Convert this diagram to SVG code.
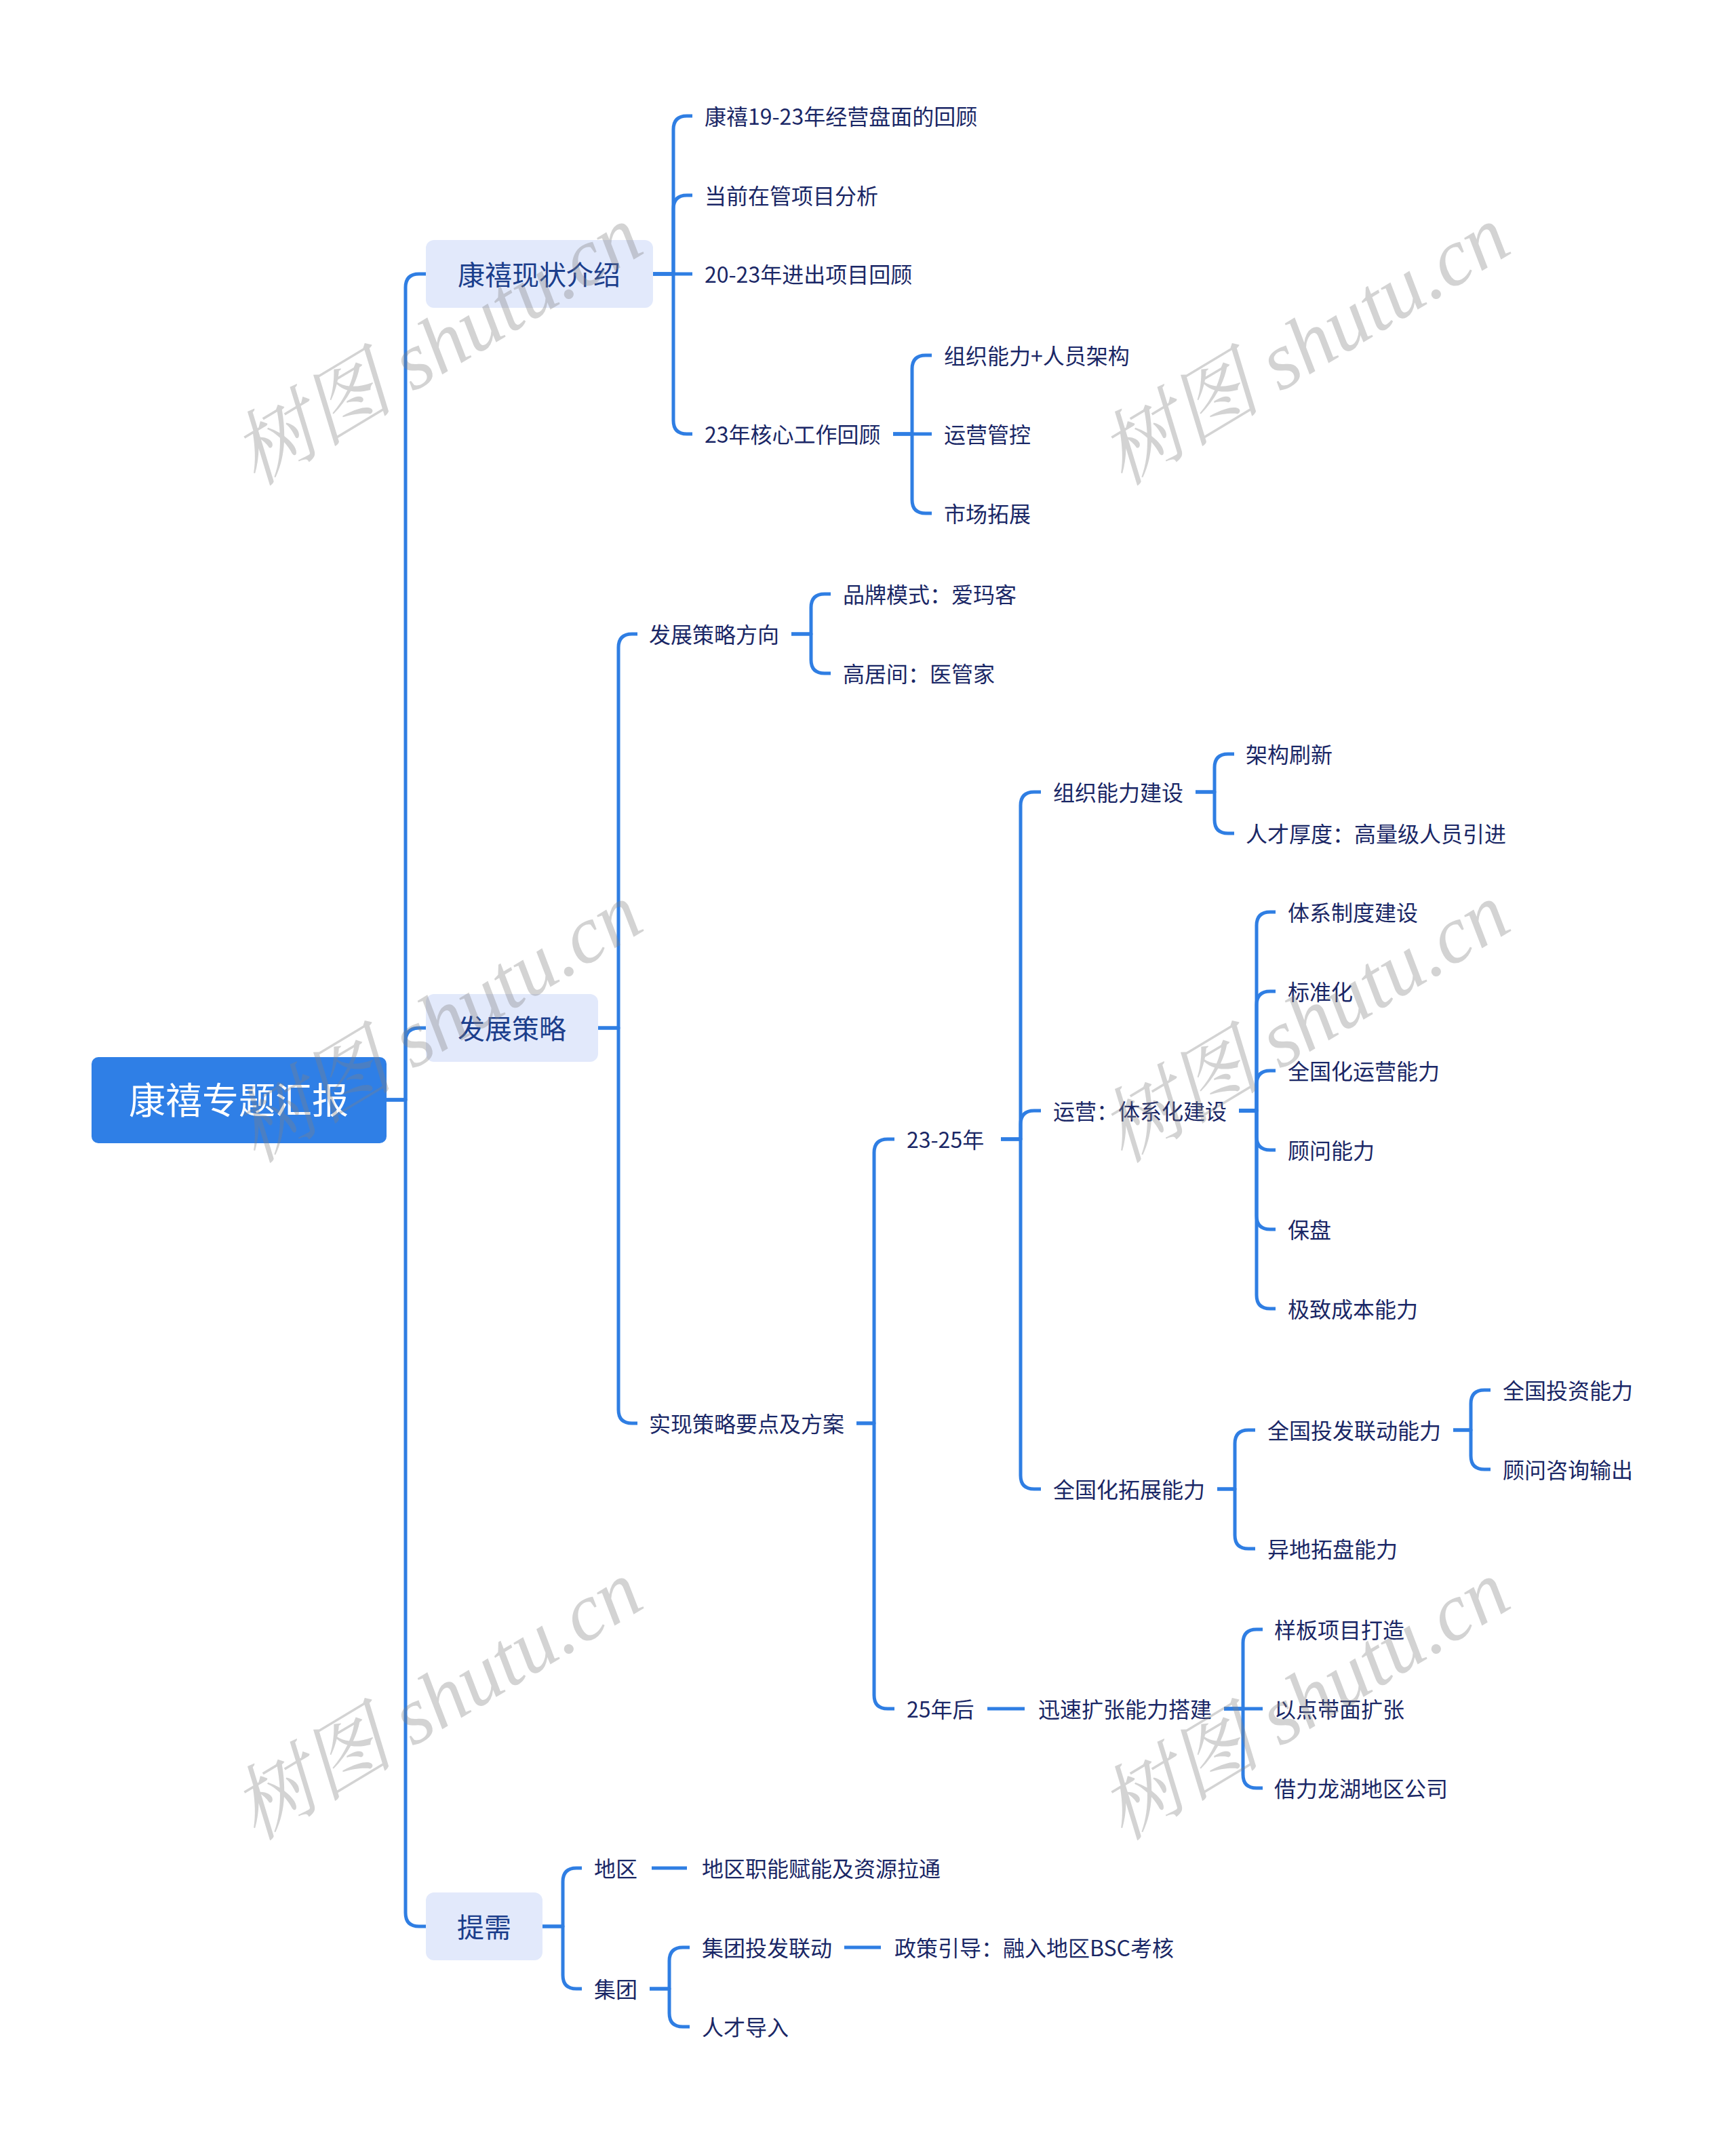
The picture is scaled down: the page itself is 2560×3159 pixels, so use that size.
<svg xmlns="http://www.w3.org/2000/svg" width="2560" height="3159" viewBox="0 0 2560 3159">
<style>
.ln{fill:none;stroke:#2f7ee3;stroke-width:5;stroke-linecap:butt;stroke-linejoin:round}
.t{font-family:"Noto Sans CJK SC","Noto Sans",sans-serif;font-size:32px;fill:#1a2766}
.t1{font-family:"Noto Sans CJK SC","Noto Sans",sans-serif;font-size:40px;fill:#1b3e8c;text-anchor:middle}
.t0{font-family:"Noto Sans CJK SC","Noto Sans",sans-serif;font-size:54px;fill:#ffffff;text-anchor:middle}
.b1{fill:#e2e9fb}
.b0{fill:#2f7fe6}
.wm{font-family:"Liberation Serif","Noto Serif CJK SC","Noto Sans CJK SC",serif;font-style:italic;font-size:120px;fill:#808080;fill-opacity:0.35;text-anchor:middle}
</style>
<rect width="2560" height="3159" fill="#ffffff"/>
<g id="connectors">
<path class="ln" d="M570 1622 H598 V424 Q598 404 618 404 H628"/>
<path class="ln" d="M570 1622 H598 V1536 Q598 1516 618 1516 H628"/>
<path class="ln" d="M570 1622 H598 V2821 Q598 2841 618 2841 H628"/>
<path class="ln" d="M963 404 H993 V191 Q993 171 1013 171 H1021"/>
<path class="ln" d="M963 404 H993 V308 Q993 288 1013 288 H1021"/>
<path class="ln" d="M963 404 H1021"/>
<path class="ln" d="M963 404 H993 V620 Q993 640 1013 640 H1021"/>
<path class="ln" d="M1317 640 H1345 V544 Q1345 524 1365 524 H1374"/>
<path class="ln" d="M1317 640 H1374"/>
<path class="ln" d="M1317 640 H1345 V737 Q1345 757 1365 757 H1374"/>
<path class="ln" d="M882 1516 H912 V955 Q912 935 932 935 H940"/>
<path class="ln" d="M882 1516 H912 V2079 Q912 2099 932 2099 H940"/>
<path class="ln" d="M1167 935 H1196 V896 Q1196 876 1216 876 H1225"/>
<path class="ln" d="M1167 935 H1196 V973 Q1196 993 1216 993 H1225"/>
<path class="ln" d="M1263 2099 H1289 V1700 Q1289 1680 1309 1680 H1319"/>
<path class="ln" d="M1263 2099 H1289 V2500 Q1289 2520 1309 2520 H1319"/>
<path class="ln" d="M1476 1680 H1505 V1188 Q1505 1168 1525 1168 H1535"/>
<path class="ln" d="M1476 1680 H1505 V1658 Q1505 1638 1525 1638 H1535"/>
<path class="ln" d="M1476 1680 H1505 V2176 Q1505 2196 1525 2196 H1535"/>
<path class="ln" d="M1763 1168 H1791 V1132 Q1791 1112 1811 1112 H1820"/>
<path class="ln" d="M1763 1168 H1791 V1209 Q1791 1229 1811 1229 H1820"/>
<path class="ln" d="M1827 1638 H1853 V1365 Q1853 1345 1873 1345 H1881"/>
<path class="ln" d="M1827 1638 H1853 V1482 Q1853 1462 1873 1462 H1881"/>
<path class="ln" d="M1827 1638 H1853 V1599 Q1853 1579 1873 1579 H1881"/>
<path class="ln" d="M1827 1638 H1853 V1676 Q1853 1696 1873 1696 H1881"/>
<path class="ln" d="M1827 1638 H1853 V1793 Q1853 1813 1873 1813 H1881"/>
<path class="ln" d="M1827 1638 H1853 V1910 Q1853 1930 1873 1930 H1881"/>
<path class="ln" d="M1795 2196 H1821 V2129 Q1821 2109 1841 2109 H1851"/>
<path class="ln" d="M1795 2196 H1821 V2264 Q1821 2284 1841 2284 H1851"/>
<path class="ln" d="M2143 2109 H2169 V2070 Q2169 2050 2189 2050 H2198"/>
<path class="ln" d="M2143 2109 H2169 V2147 Q2169 2167 2189 2167 H2198"/>
<path class="ln" d="M1456 2520 H1511"/>
<path class="ln" d="M1805 2520 H1833 V2423 Q1833 2403 1853 2403 H1862"/>
<path class="ln" d="M1805 2520 H1862"/>
<path class="ln" d="M1805 2520 H1833 V2617 Q1833 2637 1853 2637 H1862"/>
<path class="ln" d="M800 2841 H830 V2775 Q830 2755 850 2755 H858"/>
<path class="ln" d="M800 2841 H830 V2913 Q830 2933 850 2933 H858"/>
<path class="ln" d="M961 2755 H1013"/>
<path class="ln" d="M958 2933 H987 V2892 Q987 2872 1007 2872 H1017"/>
<path class="ln" d="M958 2933 H987 V2969 Q987 2989 1007 2989 H1017"/>
<path class="ln" d="M1245 2872 H1299"/>
</g>
<g id="root"><rect class="b0" x="135" y="1559" width="435" height="127" rx="10"/><text class="t0" x="352" y="1643">康禧专题汇报</text></g>
<g id="n1"><rect class="b1" x="628" y="354" width="335" height="100" rx="12"/><text class="t1" x="795" y="420">康禧现状介绍</text></g>
<g id="n2"><rect class="b1" x="628" y="1466" width="254" height="100" rx="12"/><text class="t1" x="755" y="1532">发展策略</text></g>
<g id="n3"><rect class="b1" x="628" y="2791" width="172" height="100" rx="12"/><text class="t1" x="714" y="2857">提需</text></g>
<g id="n1a"><text class="t" x="1039" y="184">康禧19-23年经营盘面的回顾</text></g>
<g id="n1b"><text class="t" x="1039" y="301">当前在管项目分析</text></g>
<g id="n1c"><text class="t" x="1039" y="417">20-23年进出项目回顾</text></g>
<g id="n1d"><text class="t" x="1039" y="653">23年核心工作回顾</text></g>
<g id="n1d1"><text class="t" x="1392" y="537">组织能力+人员架构</text></g>
<g id="n1d2"><text class="t" x="1392" y="653">运营管控</text></g>
<g id="n1d3"><text class="t" x="1392" y="770">市场拓展</text></g>
<g id="n2a"><text class="t" x="957" y="948">发展策略方向</text></g>
<g id="n2a1"><text class="t" x="1243" y="889">品牌模式：爱玛客</text></g>
<g id="n2a2"><text class="t" x="1243" y="1006">高居间：医管家</text></g>
<g id="n2b"><text class="t" x="957" y="2112">实现策略要点及方案</text></g>
<g id="n2b1"><text class="t" x="1337" y="1693">23-25年</text></g>
<g id="n2b1a"><text class="t" x="1553" y="1181">组织能力建设</text></g>
<g id="n2b1a1"><text class="t" x="1837" y="1125">架构刷新</text></g>
<g id="n2b1a2"><text class="t" x="1837" y="1242">人才厚度：高量级人员引进</text></g>
<g id="n2b1b"><text class="t" x="1553" y="1651">运营：体系化建设</text></g>
<g id="n2b1b1"><text class="t" x="1899" y="1358">体系制度建设</text></g>
<g id="n2b1b2"><text class="t" x="1899" y="1475">标准化</text></g>
<g id="n2b1b3"><text class="t" x="1899" y="1592">全国化运营能力</text></g>
<g id="n2b1b4"><text class="t" x="1899" y="1709">顾问能力</text></g>
<g id="n2b1b5"><text class="t" x="1899" y="1826">保盘</text></g>
<g id="n2b1b6"><text class="t" x="1899" y="1943">极致成本能力</text></g>
<g id="n2b1c"><text class="t" x="1553" y="2209">全国化拓展能力</text></g>
<g id="n2b1c1"><text class="t" x="1869" y="2122">全国投发联动能力</text></g>
<g id="n2b1c1a"><text class="t" x="2216" y="2063">全国投资能力</text></g>
<g id="n2b1c1b"><text class="t" x="2216" y="2180">顾问咨询输出</text></g>
<g id="n2b1c2"><text class="t" x="1869" y="2297">异地拓盘能力</text></g>
<g id="n2b2"><text class="t" x="1337" y="2533">25年后</text></g>
<g id="n2b2a"><text class="t" x="1531" y="2533">迅速扩张能力搭建</text></g>
<g id="n2b2a1"><text class="t" x="1879" y="2416">样板项目打造</text></g>
<g id="n2b2a2"><text class="t" x="1879" y="2533">以点带面扩张</text></g>
<g id="n2b2a3"><text class="t" x="1879" y="2650">借力龙湖地区公司</text></g>
<g id="n3a"><text class="t" x="876" y="2768">地区</text></g>
<g id="n3a1"><text class="t" x="1035" y="2768">地区职能赋能及资源拉通</text></g>
<g id="n3b"><text class="t" x="876" y="2946">集团</text></g>
<g id="n3b1"><text class="t" x="1035" y="2885">集团投发联动</text></g>
<g id="n3b1a"><text class="t" x="1319" y="2885">政策引导：融入地区BSC考核</text></g>
<g id="n3b2"><text class="t" x="1035" y="3002">人才导入</text></g>
<g id="watermarks">
<text class="wm" transform="rotate(-31 645 510)" x="645" y="550">树图 shutu.cn</text>
<text class="wm" transform="rotate(-31 1924 510)" x="1924" y="550">树图 shutu.cn</text>
<text class="wm" transform="rotate(-31 645 1509)" x="645" y="1549">树图 shutu.cn</text>
<text class="wm" transform="rotate(-31 1924 1509)" x="1924" y="1549">树图 shutu.cn</text>
<text class="wm" transform="rotate(-31 645 2508)" x="645" y="2548">树图 shutu.cn</text>
<text class="wm" transform="rotate(-31 1924 2508)" x="1924" y="2548">树图 shutu.cn</text>
</g>
</svg>
